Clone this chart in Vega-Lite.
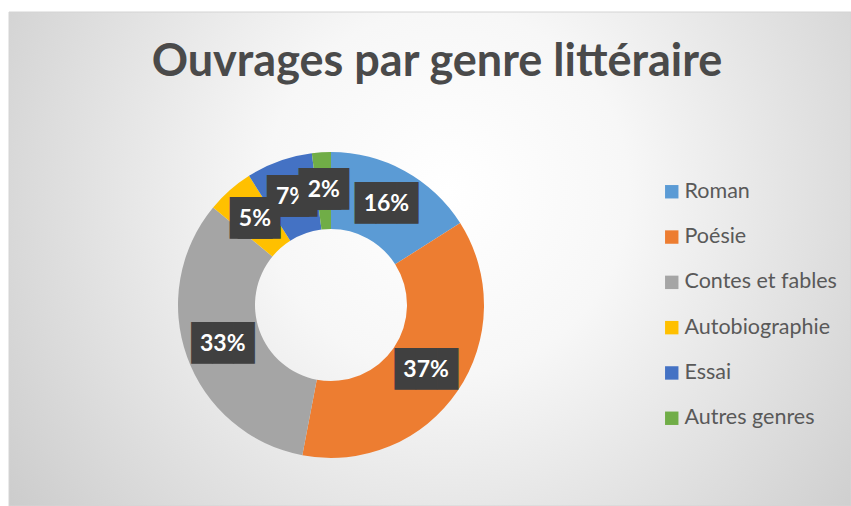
{
  "$schema": "https://vega.github.io/schema/vega-lite/v6.json",
  "width": 842,
  "height": 494,
  "padding": {"left": 9, "top": 12, "right": 0, "bottom": 0},
  "autosize": {"type": "none"},
  "background": "white",
  "config": {"view": {"stroke": null}},
  "title": {
    "text": "Ouvrages par genre littéraire",
    "anchor": "middle",
    "frame": "group",
    "orient": "top",
    "offset": -64,
    "dy": 45,
    "dx": 7,
    "baseline": "alphabetic",
    "font": "Lato",
    "fontSize": 45,
    "fontWeight": "bold",
    "color": "#4a4a4a"
  },
  "datasets": {
    "genres": [
      {"genre": "Roman", "share": 0.16},
      {"genre": "Poésie", "share": 0.37},
      {"genre": "Contes et fables", "share": 0.33},
      {"genre": "Autobiographie", "share": 0.05},
      {"genre": "Essai", "share": 0.07},
      {"genre": "Autres genres", "share": 0.02}
    ]
  },
  "data": {"name": "genres"},
  "transform": [{"window": [{"op": "row_number", "as": "rank"}]}],
  "encoding": {
    "theta": {"field": "share", "type": "quantitative", "stack": true},
    "order": {"field": "rank", "type": "quantitative"}
  },
  "layer": [
    {
      "data": {"values": [{"bg": 1}]},
      "transform": [],
      "mark": {
        "type": "rect",
        "stroke": "#d4d4d4",
        "strokeWidth": 1,
        "fill": {
          "gradient": "radial",
          "x1": 0.52, "y1": 0.42, "r1": 0,
          "x2": 0.52, "y2": 0.42, "r2": 0.72,
          "stops": [
            {"offset": 0, "color": "#ffffff"},
            {"offset": 0.3, "color": "#f7f7f7"},
            {"offset": 1, "color": "#c4c4c4"}
          ]
        }
      },
      "encoding": {"theta": null, "order": null}
    },
    {
      "mark": {"type": "arc", "innerRadius": 76, "outerRadius": 153, "x": 322, "y": 293},
      "encoding": {
        "color": {
          "field": "genre",
          "type": "nominal",
          "scale": {
            "domain": ["Roman", "Poésie", "Contes et fables", "Autobiographie", "Essai", "Autres genres"],
            "range": ["#5B9BD5", "#ED7D31", "#A5A5A5", "#FFC000", "#4472C4", "#70AD47"]
          },
          "legend": {
            "orient": "none",
            "legendX": 652,
            "legendY": 169,
            "title": null,
            "padding": 0,
            "symbolType": "square",
            "symbolSize": 180,
            "symbolStrokeWidth": 0,
            "labelFont": "Lato",
            "labelFontSize": 21.5,
            "labelColor": "#595959",
            "labelOffset": 2,
            "rowPadding": 22.3,
            "labelLimit": 300
          }
        }
      }
    },
    {
      "mark": {"type": "text", "radius": 115, "x": 322, "y": 293, "font": "DejaVu Sans Mono", "fontSize": 35, "align": "center", "baseline": "middle", "color": "#404040"},
      "encoding": {
        "text": {"condition": {"test": "datum.share >= 0.1", "value": "███"}, "value": ""}
      }
    },
    {
      "mark": {"type": "text", "radius": 115, "x": 322, "y": 293, "dx": -4, "font": "DejaVu Sans Mono", "fontSize": 35, "align": "center", "baseline": "middle", "color": "#404040"},
      "encoding": {
        "text": {"condition": {"test": "datum.share < 0.1 && datum.genre != 'Autres genres'", "value": "██"}, "value": ""}
      }
    },
    {
      "mark": {"type": "text", "radius": 115, "x": 322, "y": 293, "dx": 4, "font": "DejaVu Sans Mono", "fontSize": 35, "align": "center", "baseline": "middle", "color": "#404040"},
      "encoding": {
        "text": {"condition": {"test": "datum.share < 0.1 && datum.genre != 'Autres genres'", "value": "██"}, "value": ""}
      }
    },
    {
      "mark": {"type": "text", "radius": 115, "x": 322, "y": 293, "font": "Lato", "fontSize": 23, "fontWeight": "bold", "align": "center", "baseline": "middle", "color": "white"},
      "encoding": {
        "text": {"field": "share", "type": "quantitative", "format": ".0%"},
        "opacity": {"condition": {"test": "datum.genre == 'Autres genres'", "value": 0}, "value": 1}
      }
    },
    {
      "mark": {"type": "text", "radius": 115, "x": 322, "y": 293, "dx": -4, "font": "DejaVu Sans Mono", "fontSize": 35, "align": "center", "baseline": "middle", "color": "#404040"},
      "encoding": {
        "text": {"condition": {"test": "datum.genre == 'Autres genres'", "value": "██"}, "value": ""}
      }
    },
    {
      "mark": {"type": "text", "radius": 115, "x": 322, "y": 293, "dx": 4, "font": "DejaVu Sans Mono", "fontSize": 35, "align": "center", "baseline": "middle", "color": "#404040"},
      "encoding": {
        "text": {"condition": {"test": "datum.genre == 'Autres genres'", "value": "██"}, "value": ""}
      }
    },
    {
      "mark": {"type": "text", "radius": 115, "x": 322, "y": 293, "font": "Lato", "fontSize": 23, "fontWeight": "bold", "align": "center", "baseline": "middle", "color": "white"},
      "encoding": {
        "text": {"field": "share", "type": "quantitative", "format": ".0%"},
        "opacity": {"condition": {"test": "datum.genre == 'Autres genres'", "value": 1}, "value": 0}
      }
    }
  ]
}
